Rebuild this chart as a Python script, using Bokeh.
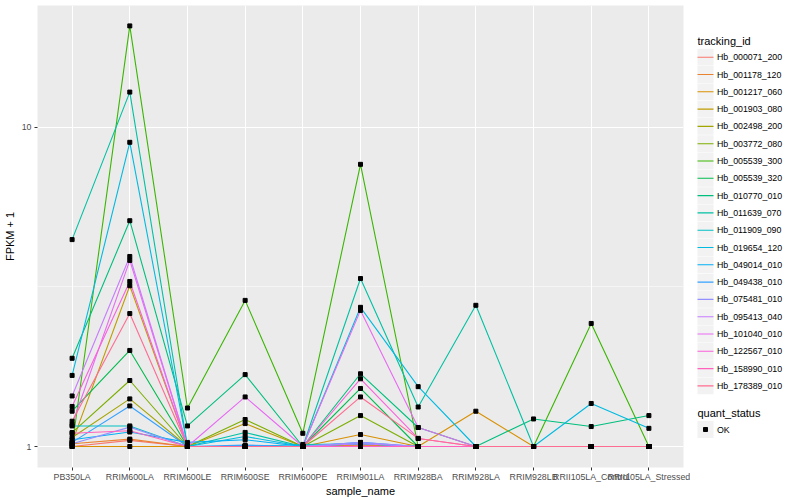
from bokeh.plotting import figure
from bokeh.layouts import row
from bokeh.models import Range1d, FixedTicker, PrintfTickFormatter
from bokeh.core.properties import value
from bokeh.embed import file_html
from bokeh.resources import INLINE

samples = ["PB350LA", "RRIM600LA", "RRIM600LE", "RRIM600SE", "RRIM600PE", "RRIM901LA",
           "RRIM928BA", "RRIM928LA", "RRIM928LB", "RRII105LA_Control", "RRII105LA_Stressed"]

tracking_ids = ["Hb_000071_200", "Hb_001178_120", "Hb_001217_060", "Hb_001903_080",
                "Hb_002498_200", "Hb_003772_080", "Hb_005539_300", "Hb_005539_320",
                "Hb_010770_010", "Hb_011639_070", "Hb_011909_090", "Hb_019654_120",
                "Hb_049014_010", "Hb_049438_010", "Hb_075481_010", "Hb_095413_040",
                "Hb_101040_010", "Hb_122567_010", "Hb_158990_010", "Hb_178389_010"]

colors = ["#F8766D", "#EA8331", "#D89000", "#C09B00", "#A3A500", "#7CAE00", "#39B600",
          "#00BB4E", "#00BF7D", "#00C1A3", "#00BFC4", "#00BAE0", "#00B0F6", "#35A2FF",
          "#9590FF", "#C77CFF", "#E76BF3", "#FA62DB", "#FF62BC", "#FF6C91"]

quant_status = ["OK"]

# FPKM + 1 per sample
hb_000071_200 = [1.00, 1.045, 1.00, 1.00, 1.00, 1.01, 1.00, 1.00, 1.00, 1.00, 1.00]
hb_001178_120 = [1.02, 1.055, 1.00, 1.00, 1.00, 1.00, 1.00, 1.00, 1.00, 1.00, 1.00]
hb_001217_060 = [1.00, 1.00, 1.00, 1.00, 1.00, 1.09, 1.00, 1.29, 1.00, 1.00, 1.00]
hb_001903_080 = [1.03, 3.19, 1.00, 1.18, 1.00, 1.015, 1.00, 1.00, 1.00, 1.00, 1.00]
hb_002498_200 = [1.067, 1.41, 1.00, 1.00, 1.00, 1.00, 1.00, 1.00, 1.00, 1.00, 1.00]
hb_003772_080 = [1.106, 1.61, 1.00, 1.215, 1.00, 1.25, 1.00, 1.00, 1.00, 1.00, 1.00]
hb_005539_300 = [1.00, 20.8, 1.32, 2.87, 1.10, 7.66, 1.00, 1.00, 1.00, 2.43, 1.00]
hb_005539_320 = [1.29, 2.00, 1.00, 1.00, 1.00, 1.52, 1.00, 1.00, 1.00, 1.00, 1.00]
hb_010770_010 = [1.89, 5.10, 1.16, 1.68, 1.00, 1.69, 1.147, 1.00, 1.22, 1.155, 1.25]
hb_011639_070 = [4.45, 12.9, 1.00, 1.107, 1.00, 3.36, 1.33, 2.77, 1.00, 1.00, 1.00]
hb_011909_090 = [1.16, 1.16, 1.00, 1.00, 1.015, 1.02, 1.00, 1.00, 1.00, 1.00, 1.00]
hb_019654_120 = [1.67, 8.98, 1.00, 1.075, 1.00, 2.73, 1.54, 1.00, 1.00, 1.364, 1.14]
hb_049014_010 = [1.05, 1.11, 1.03, 1.05, 1.00, 1.02, 1.00, 1.00, 1.00, 1.00, 1.00]
hb_049438_010 = [1.03, 1.34, 1.00, 1.01, 1.00, 1.03, 1.00, 1.00, 1.00, 1.00, 1.00]
hb_075481_010 = [1.02, 1.15, 1.00, 1.00, 1.00, 1.03, 1.00, 1.00, 1.00, 1.00, 1.00]
hb_095413_040 = [1.44, 3.94, 1.00, 1.00, 1.00, 1.02, 1.00, 1.00, 1.00, 1.00, 1.00]
hb_101040_010 = [1.17, 3.83, 1.00, 1.43, 1.00, 2.67, 1.147, 1.00, 1.00, 1.00, 1.00]
hb_122567_010 = [1.335, 3.29, 1.00, 1.00, 1.00, 1.63, 1.06, 1.00, 1.00, 1.00, 1.00]
hb_158990_010 = [1.10, 1.12, 1.00, 1.00, 1.00, 1.00, 1.00, 1.00, 1.00, 1.00, 1.00]
hb_178389_010 = [1.20, 2.61, 1.00, 1.00, 1.00, 1.43, 1.06, 1.00, 1.00, 1.00, 1.00]

series = [hb_000071_200, hb_001178_120, hb_001217_060, hb_001903_080, hb_002498_200,
          hb_003772_080, hb_005539_300, hb_005539_320, hb_010770_010, hb_011639_070,
          hb_011909_090, hb_019654_120, hb_049014_010, hb_049438_010, hb_075481_010,
          hb_095413_040, hb_101040_010, hb_122567_010, hb_158990_010, hb_178389_010]

FONT = "Liberation Sans"
x_pos = list(range(1, len(samples) + 1))

TOP, BOTTOM_BORDER, MAIN_W = 5, 33, 690

p = figure(width=MAIN_W, height=500, y_axis_type="log",
           x_range=Range1d(0.4, len(samples) + 0.6),
           y_range=Range1d(10 ** -0.0658, 10 ** 1.382),
           output_backend="svg", toolbar_location=None,
           background_fill_color="#EBEBEB", border_fill_color="white",
           min_border_left=0, min_border_bottom=BOTTOM_BORDER, min_border_top=TOP,
           min_border_right=7)
p.outline_line_color = None

xt = FixedTicker(ticks=x_pos)
p.xaxis.ticker = xt
p.xgrid.ticker = xt
p.xaxis.major_label_overrides = {i: s for i, s in zip(x_pos, samples)}
yt = FixedTicker(ticks=[1, 10], minor_ticks=[10 ** 0.5])
p.yaxis.ticker = yt
p.ygrid.ticker = yt
p.yaxis.formatter = PrintfTickFormatter(format="%d")

for ax in (p.xaxis, p.yaxis):
    ax.axis_line_color = None
    ax.major_tick_line_color = "#333333"
    ax.major_tick_in = 0
    ax.major_tick_out = 3
    ax.minor_tick_line_color = None
    ax.major_label_text_font = FONT
    ax.major_label_text_font_size = "8.8px"
    ax.major_label_text_color = "#4D4D4D"
    ax.axis_label_text_font = FONT
    ax.axis_label_text_font_size = "11px"
    ax.axis_label_text_font_style = "normal"
    ax.axis_label_text_color = "black"
p.xaxis.major_label_standoff = 1
p.xaxis.axis_label_standoff = 0
p.yaxis.major_label_standoff = 2
p.yaxis.axis_label_standoff = 3
p.xaxis.axis_label = "sample_name"
p.yaxis.axis_label = "FPKM + 1"

p.xgrid.grid_line_color = "white"
p.xgrid.grid_line_width = 1.07
p.ygrid.grid_line_color = "white"
p.ygrid.grid_line_width = 1.07
p.ygrid.minor_grid_line_color = "white"
p.ygrid.minor_grid_line_width = 0.53

for col, vals in zip(colors, series):
    p.line(x_pos, vals, line_color=col, line_width=1.1)

px, py = [], []
for vals in series:
    px.extend(x_pos)
    py.extend(vals)
p.scatter(px, py, marker="square", size=4, color="black")

# legend panel: its frame is aligned with the main frame; ranges in page pixels
lg = figure(width=800 - MAIN_W, height=500,
            x_range=Range1d(MAIN_W, 800), y_range=Range1d(500 - BOTTOM_BORDER, TOP),
            x_axis_location=None, y_axis_location=None,
            output_backend="svg", toolbar_location=None,
            min_border_left=0, min_border_right=0, min_border_top=TOP,
            min_border_bottom=BOTTOM_BORDER)
lg.outline_line_color = None
lg.grid.visible = False

KEY_L, KEY_R, TEXT_X = 697, 713, 716.5
ITEM0, PITCH = 56.7, 17.3
yc = [ITEM0 + PITCH * i for i in range(len(tracking_ids))]
ok_y = [429]

lg.quad(left=KEY_L, right=KEY_R, top=[y - 8.4 for y in yc + ok_y],
        bottom=[y + 8.4 for y in yc + ok_y], fill_color="#F2F2F2", line_color=None)
lg.segment(x0=KEY_L, x1=KEY_R, y0=yc, y1=yc, line_color=colors, line_width=1.1)
lg.scatter(x=[(KEY_L + KEY_R) / 2], y=ok_y, marker="square", size=4, color="black")

lg.text(x=TEXT_X, y=yc, text=tracking_ids, text_font=value(FONT),
        text_font_size="8.8px", text_baseline="middle", text_color="black")
lg.text(x=TEXT_X, y=ok_y, text=quant_status, text_font=value(FONT),
        text_font_size="8.8px", text_baseline="middle", text_color="black")
lg.text(x=KEY_L, y=[40.7, 412], text=["tracking_id", "quant_status"],
        text_font=value(FONT), text_font_size="11px", text_baseline="middle",
        text_color="black")

open("out.html", "w").write(file_html(row(p, lg), INLINE))
